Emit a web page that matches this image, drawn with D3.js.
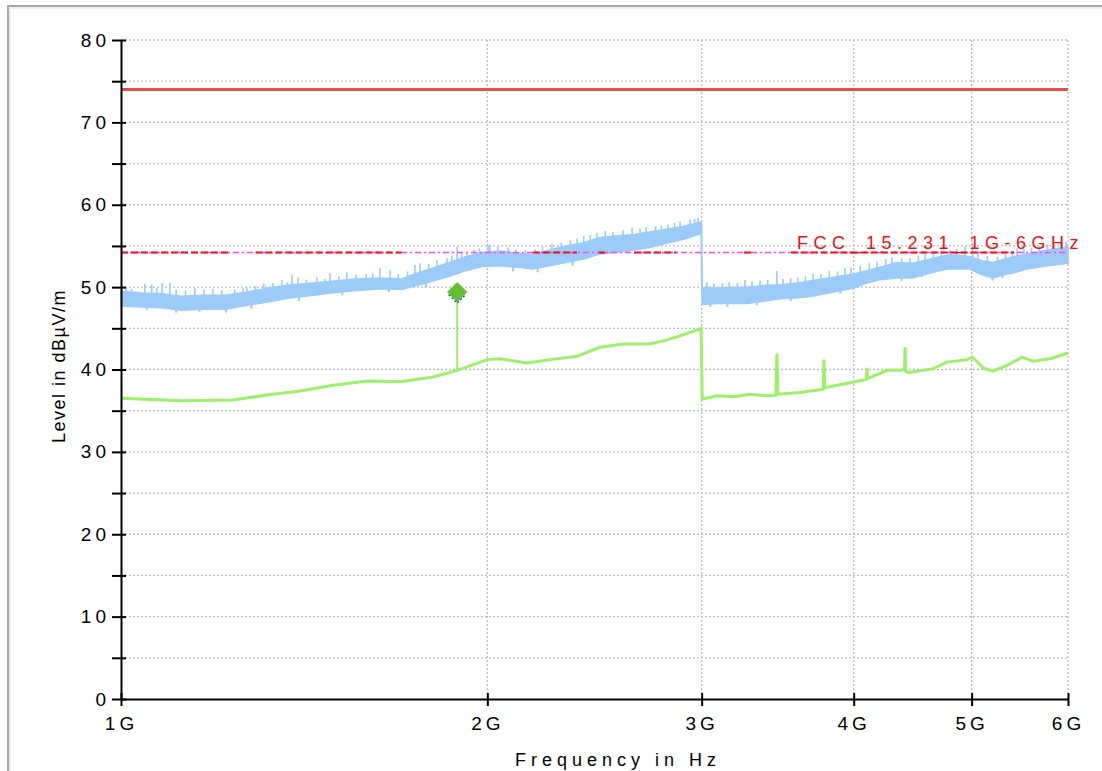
<!DOCTYPE html>
<html>
<head>
<meta charset="utf-8">
<script src="https://cdn.jsdelivr.net/npm/d3@7"></script>
<style>
  body { margin: 0; background: #fff; }
  text { font-family: Arial, "Liberation Sans", sans-serif; }
</style>
</head>
<body>
<svg id="chart" width="1102" height="771"></svg>
<script>
// frequency in GHz, level in dBuV/m
var xTicks = [1, 2, 3, 4, 5, 6];
var yTicks = [0, 5, 10, 15, 20, 25, 30, 35, 40, 45, 50, 55, 60, 65, 70, 75, 80];

// peak trace (blue band) : envelope
var peakFreq = [1.00, 1.04, 1.08, 1.12, 1.17, 1.22, 1.27, 1.32, 1.38, 1.44, 1.49, 1.56, 1.64, 1.70, 1.75, 1.81, 1.87, 1.92, 1.98, 2.05, 2.12, 2.18, 2.25, 2.32, 2.40, 2.47, 2.55, 2.64, 2.72, 2.80, 2.90, 2.997,
                3.003, 3.10, 3.20, 3.27, 3.38, 3.48, 3.60, 3.70, 3.85, 4.00, 4.10, 4.20, 4.34, 4.47, 4.62, 4.77, 4.88, 4.98, 5.10, 5.21, 5.31, 5.41, 5.55, 5.77, 6.00];
var peakLow  = [47.7, 47.6, 47.5, 47.2, 47.3, 47.3, 47.8, 48.2, 48.7, 49.0, 49.3, 49.6, 49.8, 49.7, 50.2, 50.8, 51.4, 52.0, 52.5, 52.6, 52.4, 52.2, 52.6, 53.0, 53.4, 54.0, 54.2, 54.5, 54.8, 55.3, 55.8, 56.5,
                47.9, 48.0, 48.0, 48.0, 48.3, 48.6, 48.7, 48.9, 49.4, 49.9, 50.5, 50.9, 51.1, 51.1, 51.7, 52.2, 52.2, 52.2, 51.5, 51.1, 51.5, 51.7, 52.2, 52.6, 52.9];
var peakHigh = [49.5, 49.3, 49.2, 48.9, 49.0, 49.0, 49.4, 49.9, 50.3, 50.5, 50.7, 51.0, 51.1, 51.0, 51.7, 52.4, 53.1, 53.7, 54.2, 54.4, 54.1, 54.0, 54.5, 55.0, 55.4, 56.0, 56.2, 56.4, 56.7, 57.0, 57.4, 57.9,
                50.0, 49.9, 50.0, 50.0, 50.2, 50.3, 50.5, 50.8, 51.2, 51.6, 52.0, 52.4, 53.0, 52.9, 53.4, 53.9, 53.9, 53.7, 53.2, 53.0, 53.4, 53.7, 54.0, 54.5, 54.9];
// spikes rising above the peak trace
var spikeFreq  = [1.01, 1.02, 1.046, 1.06, 1.07, 1.081, 1.097, 1.11, 1.13, 1.15, 1.17, 1.19, 1.21, 1.24, 1.26, 1.269, 1.29,
                  1.31, 1.333, 1.356, 1.37, 1.382, 1.398, 1.42, 1.449, 1.47, 1.485, 1.51, 1.533, 1.56, 1.59, 1.61, 1.632, 1.664, 1.69,
                  1.72, 1.744, 1.761, 1.79, 1.818, 1.853, 1.87, 1.889, 1.905, 1.924, 1.95, 1.97, 2.003,
                  2.01, 2.04, 2.08, 2.11, 2.15, 2.19, 2.22, 2.26, 2.30, 2.34, 2.37, 2.40, 2.43, 2.461, 2.50, 2.537, 2.585, 2.630, 2.67, 2.70, 2.75, 2.78, 2.815, 2.85, 2.88, 2.935, 2.96, 2.98,
                  3.03, 3.07, 3.12, 3.16, 3.21, 3.256, 3.30, 3.35, 3.40, 3.459, 3.50, 3.55, 3.60, 3.65, 3.704, 3.76, 3.82, 3.88, 3.935, 3.98,
                  4.05, 4.12, 4.18, 4.25, 4.30, 4.38, 4.45, 4.52, 4.58, 4.65, 4.72, 4.80, 4.86, 4.94, 5.01, 5.06, 5.15, 5.25, 5.33, 5.40, 5.448, 5.52, 5.60, 5.68, 5.77, 5.85, 5.92, 5.98];
var spikeLevel = [50.0, 49.8, 50.4, 50.3, 49.9, 50.5, 50.5, 49.7, 49.6, 49.9, 49.7, 49.8, 49.6, 49.7, 49.9, 50.0, 50.1,
                  50.4, 50.5, 50.9, 50.6, 51.5, 51.2, 50.9, 51.2, 51.0, 51.7, 51.3, 51.8, 51.5, 51.6, 51.7, 52.3, 52.1, 51.6,
                  51.9, 52.7, 52.9, 52.8, 53.3, 53.5, 53.8, 54.9, 54.2, 54.3, 54.5, 54.7, 55.1,
                  55.1, 54.9, 54.8, 54.6, 54.5, 54.6, 54.9, 55.2, 55.4, 55.7, 55.9, 56.2, 56.3, 56.6, 56.8, 56.7, 56.9, 57.2, 57.1, 57.3, 57.4, 57.5, 57.6, 57.8, 58.0, 58.2, 58.3, 58.4,
                  50.6, 50.4, 50.5, 50.6, 50.5, 50.9, 50.7, 50.8, 50.9, 52.0, 51.0, 51.1, 51.2, 51.3, 51.6, 51.6, 52.0, 51.9, 52.3, 52.4,
                  52.6, 52.9, 53.1, 53.4, 53.6, 53.5, 53.5, 53.8, 54.0, 54.3, 54.4, 54.5, 54.6, 54.9, 55.4, 54.2, 53.8, 53.7, 54.0, 54.3, 54.7, 54.6, 54.8, 55.0, 55.2, 55.2, 55.4, 55.5];
// dips below the peak trace
var dipFreq  = [1.05, 1.11, 1.16, 1.22, 1.28, 1.40, 1.52, 1.66, 1.78, 2.10, 2.20, 2.35, 3.05, 3.15, 3.33, 3.55, 3.90, 4.38, 4.55, 5.20, 5.30];
var dipLevel = [47.2, 46.9, 47.0, 46.9, 47.4, 48.3, 49.0, 49.4, 49.9, 51.9, 51.8, 52.6, 47.6, 47.6, 47.8, 48.3, 49.2, 50.7, 51.2, 50.8, 51.1];

// average trace (green)
var avgFreq  = [1.00, 1.124, 1.236, 1.318, 1.403, 1.494, 1.593, 1.696, 1.805, 1.889, 2.00, 2.048, 2.156, 2.252, 2.370, 2.475, 2.585, 2.721, 2.810, 2.896, 2.997,
                3.003, 3.089, 3.184, 3.287, 3.395, 3.452, 3.459, 3.466, 3.614, 3.775, 3.781, 3.787, 3.972, 4.098, 4.102, 4.106, 4.261, 4.366, 4.404, 4.408, 4.414, 4.438, 4.648, 4.772, 4.958, 5.005, 5.110, 5.206, 5.346, 5.501, 5.616, 5.800, 6.00];
var avgLevel = [36.5, 36.2, 36.3, 36.9, 37.4, 38.1, 38.6, 38.5, 39.1, 39.9, 41.2, 41.3, 40.8, 41.2, 41.6, 42.7, 43.1, 43.1, 43.6, 44.2, 45.0,
                36.4, 36.8, 36.7, 37.0, 36.8, 36.9, 41.9, 37.0, 37.2, 37.6, 41.2, 37.8, 38.4, 38.8, 40.2, 38.9, 39.9, 39.9, 40.0, 42.7, 39.8, 39.6, 40.1, 40.9, 41.2, 41.5, 40.2, 39.8, 40.5, 41.5, 41.0, 41.3, 42.0];

var limitPeak = 74;
var limitAvg = 54.2;
var limitName = "FCC_15.231_1G-6GHz";
// stretches where the red dashed line shows over the magenta one
var redStart = [1.00, 1.29, 2.18, 2.47, 2.64, 3.25, 3.55];
var redEnd   = [1.23, 1.70, 2.37, 2.50, 2.86, 3.31, 5.42];

var markerFreq = 1.889, markerLevel = 49.4, markerBase = 39.9;

var svg = d3.select("#chart");
var mLeft = 121, mRight = 1068, mTop = 40, mBottom = 699;
var blue = "#9ccbf8", green = "#9cf06a";

var x = d3.scaleLog().domain([1, 6]).range([mLeft, mRight]);
var y = d3.scaleLinear().domain([0, 80]).range([mBottom, mTop]);

// outer frame
svg.append("path").attr("d", "M8,771 V6 H1102").attr("fill", "none").attr("stroke", "#a8a8a8").attr("stroke-width", 2);
svg.append("path").attr("d", "M10,771 V8 H1102").attr("fill", "none").attr("stroke", "#efefef").attr("stroke-width", 2);

// grid
svg.append("g").selectAll("line").data(yTicks.filter(function(d){ return d > 0; }))
  .enter().append("line")
    .attr("x1", mLeft).attr("x2", mRight)
    .attr("y1", function(d){ return y(d); }).attr("y2", function(d){ return y(d); })
    .attr("stroke", "#bdbdbd").attr("stroke-width", 1.3).attr("stroke-dasharray", "2,2");
svg.append("g").selectAll("line").data(xTicks.slice(1))
  .enter().append("line")
    .attr("x1", function(d){ return x(d); }).attr("x2", function(d){ return x(d); })
    .attr("y1", mTop).attr("y2", mBottom)
    .attr("stroke", "#bdbdbd").attr("stroke-width", 1.3).attr("stroke-dasharray", "2,2");

// peak band
var band = peakFreq.map(function(f, i){ return {f: f, lo: peakLow[i], hi: peakHigh[i]}; });
svg.append("path").datum(band)
  .attr("fill", blue).attr("stroke", blue).attr("stroke-width", 1.5)
  .attr("d", d3.area().x(function(d){ return x(d.f); }).y0(function(d){ return y(d.lo); }).y1(function(d){ return y(d.hi); }));
svg.append("line").attr("x1", x(3)).attr("x2", x(3)).attr("y1", y(57.9)).attr("y2", y(49.5))
  .attr("stroke", blue).attr("stroke-width", 1.5);
svg.append("g").selectAll("line").data(spikeFreq)
  .enter().append("line")
    .attr("x1", function(d){ return x(d); }).attr("x2", function(d){ return x(d); })
    .attr("y1", function(d, i){ return y(spikeLevel[i]); })
    .attr("y2", function(d, i){ return y(spikeLevel[i] - 1.8); })
    .attr("stroke", blue).attr("stroke-width", 1.6);
svg.append("g").selectAll("line").data(dipFreq)
  .enter().append("line")
    .attr("x1", function(d){ return x(d); }).attr("x2", function(d){ return x(d); })
    .attr("y1", function(d, i){ return y(dipLevel[i]); })
    .attr("y2", function(d, i){ return y(dipLevel[i] + 1.5); })
    .attr("stroke", blue).attr("stroke-width", 2);

// average trace
var avg = avgFreq.map(function(f, i){ return {f: f, v: avgLevel[i]}; });
svg.append("path").datum(avg)
  .attr("fill", "none").attr("stroke", green).attr("stroke-width", 3)
  .attr("d", d3.line().x(function(d){ return x(d.f); }).y(function(d){ return y(d.v); }));

// limit lines
svg.append("line").attr("x1", mLeft).attr("x2", mRight).attr("y1", y(limitPeak)).attr("y2", y(limitPeak))
  .attr("stroke", "#f04a4a").attr("stroke-width", 3);
svg.append("line").attr("x1", mLeft).attr("x2", mRight).attr("y1", y(limitAvg)).attr("y2", y(limitAvg))
  .attr("stroke", "#ff44ff").attr("stroke-width", 1.6).attr("stroke-dasharray", "6,3,2,3");
svg.append("g").selectAll("line").data(redStart)
  .enter().append("line")
    .attr("x1", function(d){ return x(d); }).attr("x2", function(d, i){ return x(redEnd[i]); })
    .attr("y1", y(limitAvg)).attr("y2", y(limitAvg))
    .attr("stroke", "#ee1111").attr("stroke-width", 2).attr("stroke-dasharray", "7,3");
svg.append("text").attr("x", 797).attr("y", 249)
  .attr("fill", "#ee1111").attr("font-size", 18).attr("letter-spacing", 5.5)
  .text(limitName);

// marker
var mx = x(markerFreq), my = y(markerLevel);
svg.append("line").attr("x1", mx).attr("x2", mx).attr("y1", my).attr("y2", y(markerBase))
  .attr("stroke", green).attr("stroke-width", 2);
svg.append("path").attr("d", d3.symbol().type(d3.symbolDiamond2).size(160)())
  .attr("transform", "translate(" + mx + "," + (my + 3) + ")")
  .attr("fill", "none").attr("stroke", "#2233dd").attr("stroke-width", 1.5).attr("stroke-dasharray", "2,2");
svg.append("path").attr("d", d3.symbol().type(d3.symbolDiamond2).size(260)())
  .attr("transform", "translate(" + mx + "," + my + ")")
  .attr("fill", "#66bf33");

// axes
var yAxis = svg.append("g").attr("transform", "translate(" + mLeft + ",0)")
  .call(d3.axisLeft(y).tickValues(yTicks).tickSize(9).tickSizeOuter(0)
    .tickFormat(function(d){ return d % 10 ? "" : d; }));
yAxis.select(".domain").attr("stroke", "#000").attr("stroke-width", 2);
yAxis.selectAll(".tick line").attr("x1", 5).attr("stroke-width", 2);
yAxis.selectAll(".tick text").attr("x", -11).attr("font-size", 19).attr("letter-spacing", 4).attr("fill", "#000");

var xAxis = svg.append("g").attr("transform", "translate(0," + mBottom + ")")
  .call(d3.axisBottom(x).tickValues(xTicks).tickSize(7).tickSizeOuter(0)
    .tickFormat(function(d){ return d + "G"; }));
xAxis.select(".domain").attr("stroke", "#000").attr("stroke-width", 2);
xAxis.selectAll(".tick line").attr("y1", -6).attr("stroke-width", 2);
xAxis.selectAll(".tick text").attr("y", 18).attr("font-size", 19).attr("letter-spacing", 4).attr("fill", "#000");

svg.append("text").attr("x", 618).attr("y", 766).attr("text-anchor", "middle")
  .attr("font-size", 18).attr("letter-spacing", 5).text("Frequency in Hz");
svg.append("text").attr("transform", "translate(65,366) rotate(-90)").attr("text-anchor", "middle")
  .attr("font-size", 18).attr("letter-spacing", 1.5).text("Level in dBµV/m");
</script>
</body>
</html>
